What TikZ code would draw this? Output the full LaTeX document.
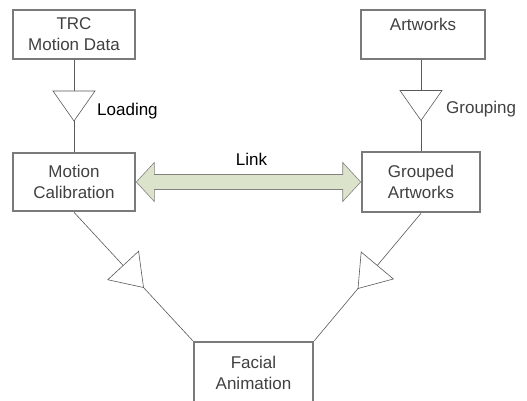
\documentclass[tikz,border=0pt]{standalone}
\usepackage{fontspec}
\setmainfont{Liberation Sans}
\usetikzlibrary{positioning, calc}
\definecolor{linkgreen}{HTML}{DCE3CB}
\definecolor{framegray}{HTML}{7A7A7A}

\begin{document}
\begin{tikzpicture}[x=1pt, y=-1pt,
    stagebox/.style={rectangle, draw=framegray, line width=2.6pt, inner sep=0pt, align=center, text=black!75, font=\fontsize{17}{21}\selectfont,
        append after command={\pgfextra{\draw[white, line width=1pt] (\tikzlastnode.north west) rectangle (\tikzlastnode.south east);}}},
    conn/.style={draw=black!65, line width=0.6pt},
    lbl/.style={font=\fontsize{17}{21}\selectfont, inner sep=0pt},
    valve/.pic={\draw[draw=black!65, line width=0.6pt, fill=white, line join=miter] (15,0) -- (-15,21) -- (-15,-21) -- cycle;},
    linkarrow/.style={draw=black!50, fill=linkgreen, line width=0.6pt, line join=miter}
]
    \useasboundingbox (0,0) rectangle (527,401);

    % Stage boxes
    \node (trc) [stagebox, minimum width=122pt, minimum height=49pt] at (74,34.5) {TRC\\Motion Data};
    \node (art) [stagebox, minimum width=124pt, minimum height=49pt] at (423,34.5) {Artworks\\\phantom{A}};
    \node (calib) [stagebox, minimum width=122pt, minimum height=58pt] at (74,182) {Motion\\Calibration};
    \node (grouped) [stagebox, minimum width=118pt, minimum height=60pt] at (421,182) {Grouped\\Artworks};
    \node (facial) [stagebox, minimum width=119pt, minimum height=62pt] at (253.5,373) {Facial\\Animation};

    % Connectors
    \draw [conn] (trc) -- (calib);
    \draw [conn] (art.south -| grouped) -- (grouped);
    \draw [conn] (calib.south) -- (facial.north west);
    \draw [conn] (grouped.south) -- (facial.north east);

    % Triangles sit on the middle of each connector
    \path (trc) -- (calib) pic[midway, sloped, allow upside down] {valve} coordinate[midway] (loadmid);
    \path (art.south -| grouped) -- (grouped) pic[midway, sloped, allow upside down] {valve} coordinate[midway] (groupmid);
    \path (calib.south) -- (facial.north west) pic[midway, sloped, allow upside down] {valve};
    \path (grouped.south) -- (facial.north east) pic[midway, sloped, allow upside down] {valve};

    \node (loadlbl) [lbl, anchor=base west] at ([xshift=23pt, yshift=-10pt]loadmid) {Loading};
    \node (grouplbl) [lbl, anchor=base west, text=black!75] at ([xshift=25pt, yshift=-8pt]groupmid) {Grouping};

    % Two-way link arrow
    \draw [linkarrow] (calib.east) -- ++(18,-19.5) -- ++(0,12) -- ($(grouped.west)+(-18,-7.5)$) -- ++(0,-12)
        -- (grouped.west) -- ++(-18,19.5) -- ++(0,-12) -- ($(calib.east)+(18,7.5)$) -- ++(0,12) -- cycle;
    \coordinate (linkmid) at ($(calib.east)!0.5!(grouped.west)$);
    \node (linklbl) [lbl, anchor=base] at ([xshift=3pt, yshift=17pt]linkmid) {Link};
\end{tikzpicture}
\end{document}
